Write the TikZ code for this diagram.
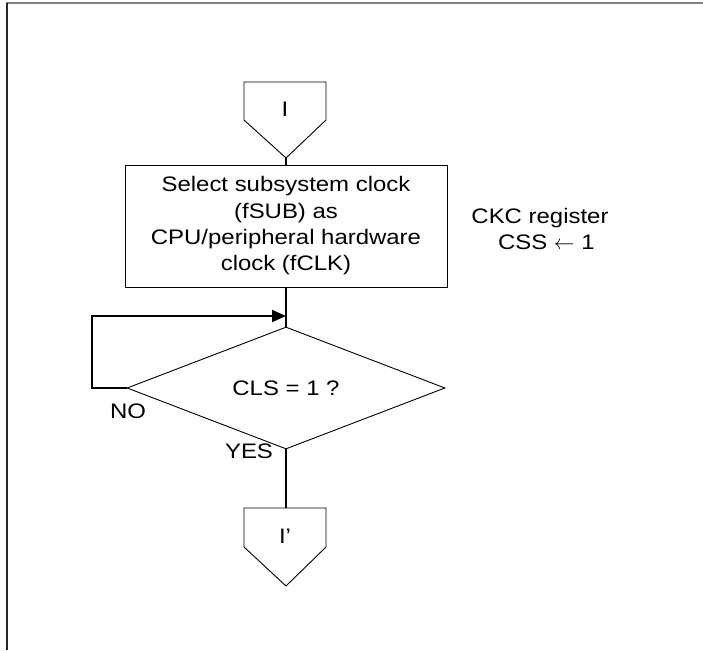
\documentclass[tikz,border=0pt]{standalone}
\usepackage{fontspec}
\setmainfont{Liberation Sans}[FakeStretch=1.14]
\usepackage{tikz}
\usetikzlibrary{
	arrows.meta,
	positioning,
	shapes.geometric
}

\tikzset{
	shapeline/.style={line width=0.9pt},
	flowline/.style={line width=2pt},
	procbox/.style={draw, shapeline, rectangle, align=center, minimum width=322pt, minimum height=122pt, inner sep=0pt},
	decision/.style={draw, shapeline, diamond, minimum width=318pt, minimum height=97pt, inner sep=0pt},
	txt/.style={inner sep=0pt, align=center}
}

\begin{document}
\begin{tikzpicture}[x=1pt, y=-1pt, font=\fontsize{21}{26.3}\selectfont]
				\useasboundingbox (0,0) rectangle (703,650);
				% page frame
				\draw[line width=2pt, gray] (6,3) -- (703,3);
				\draw[line width=1.5pt, black!85] (7,3) -- (7,650);
				% off-page connector I
				\draw[shapeline] (244,82) -- (326,82) -- (326,120) -- (286,158) -- (244,120) -- cycle;
				\coordinate (Itip) at (286,158);
				\node[txt] (I) at (285,109) {I};
				% process and decision
				\node[procbox] (sel) at (286,226) {Select subsystem clock\\(fSUB) as\\CPU/peripheral hardware\\clock (fCLK)};
				\node[txt] (reg) at (540,229) {CKC register\\\hspace*{0.6em}CSS \(\leftarrow\) 1};
				\node[decision] (cls) at (286,388) {CLS = 1 ?};
				\coordinate (join) at (286,316);
				% off-page connector I'
				\draw[shapeline] (244,508) -- (326,508) -- (326,547) -- (286,586) -- (244,547) -- cycle;
				\coordinate (Jtop) at (286,508);
				\node[txt] (J) at (285,536) {I’};
				% connectors
				\draw[flowline] (Itip) -- (sel.north);
				\draw[flowline] (sel.south) -- (cls.north);
				\draw[flowline, -{Triangle[length=14pt, width=12pt]}] (cls.west) -- ++(-35,0) |- (join);
				\draw[flowline] (cls.south) -- (Jtop);
				\node[txt] (no) at (128,411) {NO};
				\node[txt] (yes) at (249,451) {YES};
			\end{tikzpicture}
\end{document}
